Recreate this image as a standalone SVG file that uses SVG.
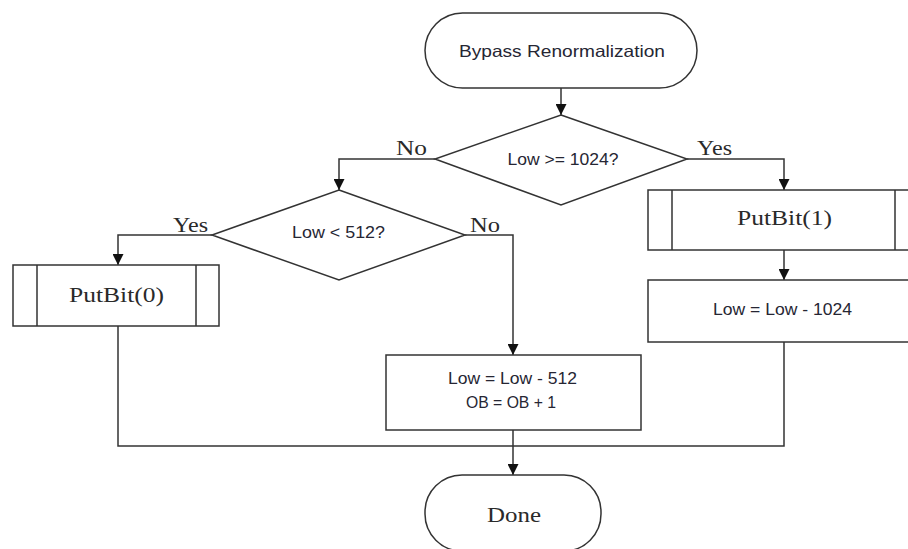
<svg xmlns="http://www.w3.org/2000/svg" width="908" height="549" viewBox="0 0 908 549">
  <defs>
    <marker id="arrow" markerUnits="userSpaceOnUse" markerWidth="11" markerHeight="11" refX="11" refY="5.5" orient="auto">
      <path d="M0,0 L11,5.5 L0,11 Z" fill="#111"/>
    </marker>
    <style>
      .shape { fill: #fff; stroke: #333; stroke-width: 1.5; }
      .edge { fill: none; stroke: #333; stroke-width: 1.5; }
      .flow { fill: none; stroke: #333; stroke-width: 1.5; marker-end: url(#arrow); }
      .sans { font-family: "Liberation Sans", Arial, sans-serif; font-size: 16.5px; fill: #262633; text-anchor: middle; }
      .serif { font-family: "Liberation Serif", "Times New Roman", serif; font-size: 22px; fill: #2a2a2a; text-anchor: middle; }
      .lbl { font-family: "Liberation Serif", "Times New Roman", serif; font-size: 22px; fill: #2a2a2a; }
    </style>
  </defs>
  <rect width="908" height="549" fill="#fff"/>

  <g id="connectors">
    <path class="flow" d="M561,88 V115"/>
    <path class="flow" d="M435,159 H339 V190"/>
    <path class="flow" d="M687,159 H784 V190"/>
    <path class="flow" d="M212,235 H118 V265"/>
    <path class="flow" d="M465,235 H513 V355"/>
    <path class="flow" d="M784,250 V280"/>
    <path class="edge" d="M118,326 V446 H784 V342"/>
    <path class="flow" d="M513,430 V475"/>
    <text class="lbl" x="396" y="155" textLength="31" lengthAdjust="spacingAndGlyphs">No</text>
    <text class="lbl" x="697" y="155" textLength="35" lengthAdjust="spacingAndGlyphs">Yes</text>
    <text class="lbl" x="173" y="232" textLength="35" lengthAdjust="spacingAndGlyphs">Yes</text>
    <text class="lbl" x="470" y="232" textLength="30" lengthAdjust="spacingAndGlyphs">No</text>
  </g>

  <g id="start">
    <rect class="shape" x="425" y="13" width="272" height="75" rx="37.5"/>
    <text class="sans" x="562" y="57" textLength="206" lengthAdjust="spacingAndGlyphs">Bypass Renormalization</text>
  </g>

  <g id="test-1024">
    <polygon class="shape" points="561,115 687,159 561,205 435,159"/>
    <text class="sans" x="563" y="165" textLength="111" lengthAdjust="spacingAndGlyphs">Low &gt;= 1024?</text>
  </g>

  <g id="test-512">
    <polygon class="shape" points="339,190 465,235 339,280 212,235"/>
    <text class="sans" x="338.5" y="238" textLength="93" lengthAdjust="spacingAndGlyphs">Low &lt; 512?</text>
  </g>

  <g id="putbit-0">
    <rect class="shape" x="13" y="265" width="206" height="61"/>
    <path class="edge" d="M37,265 V326 M196,265 V326"/>
    <text class="serif" x="116.5" y="302" textLength="95" lengthAdjust="spacingAndGlyphs">PutBit(0)</text>
  </g>

  <g id="putbit-1">
    <rect class="shape" x="648" y="190" width="272" height="60"/>
    <path class="edge" d="M672,190 V250 M895,190 V250"/>
    <text class="serif" x="784.5" y="225" textLength="95" lengthAdjust="spacingAndGlyphs">PutBit(1)</text>
  </g>

  <g id="sub-1024">
    <rect class="shape" x="648" y="280" width="272" height="62"/>
    <text class="sans" x="782.5" y="315" textLength="139" lengthAdjust="spacingAndGlyphs">Low = Low - 1024</text>
  </g>

  <g id="sub-512">
    <rect class="shape" x="386" y="355" width="255" height="75"/>
    <text class="sans" x="512.5" y="384" textLength="129" lengthAdjust="spacingAndGlyphs">Low = Low - 512</text>
    <text class="sans" x="511" y="408" textLength="90" lengthAdjust="spacingAndGlyphs">OB = OB + 1</text>
  </g>

  <g id="done">
    <rect class="shape" x="425" y="475" width="176" height="76" rx="37"/>
    <text class="serif" x="514" y="522" textLength="54" lengthAdjust="spacingAndGlyphs">Done</text>
  </g>
</svg>
